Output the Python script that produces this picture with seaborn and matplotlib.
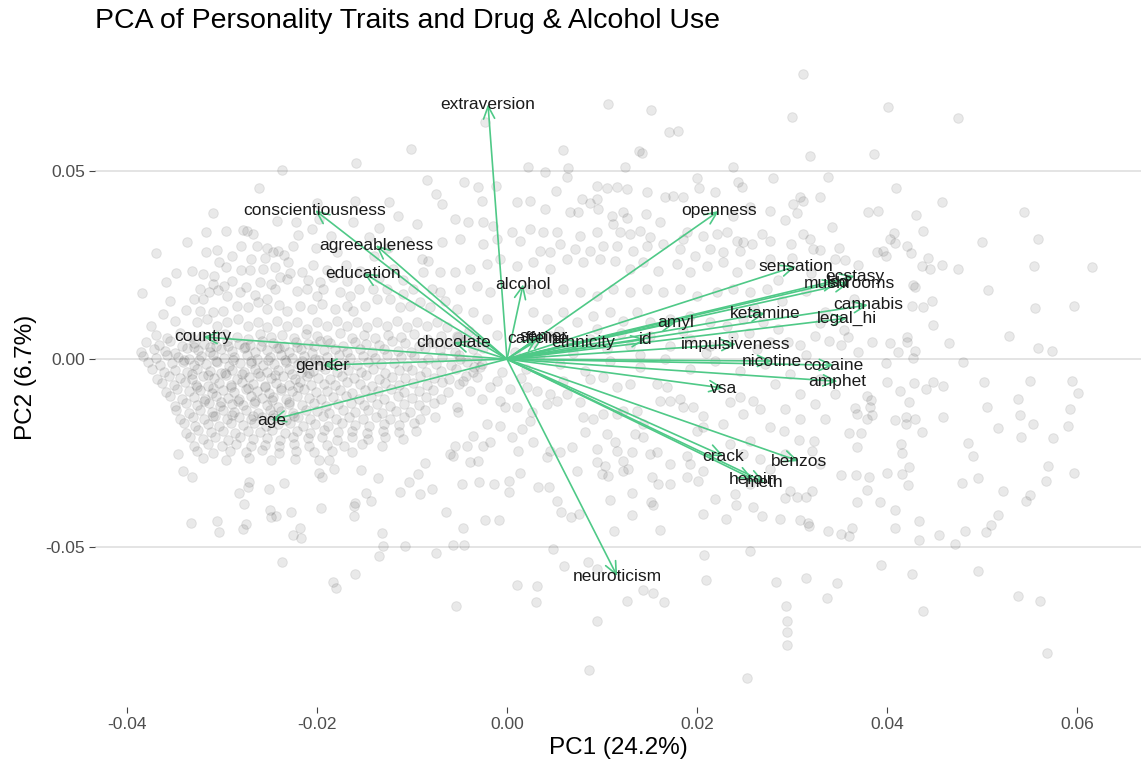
import numpy as np
import pandas as pd
import matplotlib
matplotlib.use("Agg")
import matplotlib.pyplot as plt
import seaborn as sns

# ---------------------------------------------------------------------------
# Variable loadings (PC1, PC2), in units of 1e-3
# ---------------------------------------------------------------------------
var_names = ["extraversion", "conscientiousness", "agreeableness", "education",
             "alcohol", "openness", "sensation", "ecstasy", "lsd", "mushrooms",
             "cannabis", "legal_hi", "ketamine", "amyl", "id", "ethnicity",
             "caffeine", "semer", "chocolate", "impulsiveness", "nicotine",
             "cocaine", "amphet", "vsa", "crack", "benzos", "heroin", "meth",
             "neuroticism", "country", "gender", "age"]
load_pc1 = [-2.0, -20.2, -13.8, -15.1, 1.7, 22.3, 30.4, 36.6, 34.8, 36.0,
            38.0, 35.8, 27.2, 17.8, 14.6, 8.0, 3.2, 3.9, -5.6, 24.1, 27.9,
            34.4, 34.8, 22.8, 22.8, 30.7, 25.9, 27.1, 11.6, -32.0, -19.4, -24.8]
load_pc2 = [67.8, 39.6, 30.3, 22.9, 19.9, 39.4, 24.7, 22.1, 20.5, 20.2,
            14.4, 10.9, 12.2, 9.8, 5.3, 4.5, 5.6, 6.1, 4.5, 4.0, -0.5,
            -1.6, -5.9, -7.7, -25.8, -27.1, -31.9, -32.7, -57.7, 5.9, -1.6, -16.2]

# ---------------------------------------------------------------------------
# Respondent scores (PC1, PC2), in units of 1e-3, grouped by area of the plane
# ---------------------------------------------------------------------------
pts_upper_left = [
    (-10.1, 55.9), (-15.9, 52.1), (-23.7, 50.3), (-26.1, 45.5), (-8.4, 47.6), (-6.8, 41.2),
    (-12.4, 41.8), (-16.0, 42.0), (-30.9, 38.8), (-24.2, 36.7), (-22.2, 36.4), (-19.8, 37.2),
    (-16.2, 36.4), (-31.7, 33.8), (-29.6, 34.0), (-27.8, 34.3), (-27.4, 34.0), (-26.7, 33.2),
    (-22.0, 33.0), (-33.7, 31.1), (-31.7, 28.5), (-30.5, 29.0), (-28.0, 30.1), (-26.3, 30.1),
    (-25.3, 29.5), (-24.6, 28.5), (-24.1, 28.7), (-22.5, 30.1), (-20.1, 29.5), (-36.9, 28.2),
    (-17.9, 28.5), (-6.8, 31.1), (-8.9, 26.6), (-8.3, 26.1), (-30.3, 25.8), (-29.6, 24.5),
    (-28.0, 23.7), (-27.1, 23.7), (-25.7, 23.9), (-24.4, 24.5), (-23.1, 25.8), (-21.6, 23.1),
    (-20.4, 25.0), (-18.9, 23.7), (-34.8, 22.9), (-35.9, 20.5), (-33.2, 23.4), (-32.0, 22.6),
    (-38.4, 17.6), (-30.8, 22.1), (-28.9, 20.7), (-23.9, 21.8), (-23.2, 21.3), (-19.7, 20.5),
    (-18.3, 21.8), (-16.8, 20.7), (-14.1, 18.6), (-15.6, 18.6), (-32.3, 18.6), (-31.4, 17.8),
    (-30.4, 18.4), (-32.9, 16.0), (-32.0, 16.0), (-29.5, 16.8), (-28.1, 17.8), (-26.5, 17.0),
    (-25.3, 16.0), (-24.4, 18.6), (-22.1, 18.1), (-21.1, 18.6), (-20.0, 16.8), (-19.4, 18.6),
    (-17.6, 17.8), (-16.5, 16.8), (-12.6, 18.6), (-10.9, 17.3), (-9.9, 18.6), (-7.9, 18.6),
    (-7.1, 17.8), (-8.8, 23.1), (-7.1, 23.1),
    (-33.8, 13.0), (-32.3, 12.8), (-30.9, 12.5), (-29.9, 12.8), (-28.4, 14.1), (-27.3, 13.8),
    (-26.2, 15.2), (-25.3, 13.3), (-24.0, 14.4), (-23.2, 12.8), (-21.8, 14.1), (-20.5, 13.3),
    (-19.5, 14.6), (-18.1, 13.3), (-16.8, 14.1), (-16.2, 12.8), (-14.9, 14.1), (-13.7, 16.0),
    (-12.3, 16.0), (-11.3, 13.8), (-10.2, 14.1), (-9.2, 15.2), (-8.1, 13.8), (-6.5, 15.4),
    (-32.6, 9.8), (-31.6, 10.6), (-30.5, 8.8), (-29.5, 9.8), (-28.3, 10.6), (-27.3, 8.8),
    (-26.2, 9.8), (-25.3, 8.5), (-24.2, 10.1), (-23.2, 8.8), (-22.1, 9.8), (-21.1, 8.0),
    (-20.0, 9.8), (-18.9, 8.8), (-17.9, 10.1), (-16.8, 8.8), (-15.8, 9.8), (-14.7, 8.5),
    (-13.7, 9.8), (-12.6, 8.8), (-11.6, 10.1), (-10.5, 8.5), (-9.5, 9.8), (-8.4, 8.8),
    (-7.4, 9.8), (-6.3, 8.5),
    (-36.2, 12.0), (-35.0, 10.2), (-37.5, 8.9), (-35.5, 15.5),
    (-31.0, 20.0), (-29.8, 19.5), (-27.5, 19.2), (-26.0, 20.5), (-24.8, 19.9), (-22.8, 23.0),
    (-21.0, 21.0), (-27.0, 26.5), (-25.5, 27.0), (-23.5, 27.8), (-29.0, 27.5), (-17.0, 25.0),
    (-15.5, 23.5), (-13.5, 21.5), (-12.0, 24.0), (-11.0, 21.0), (-14.0, 27.5), (-12.5, 29.5),
    (-10.5, 31.5), (-14.5, 32.5), (-18.5, 32.8), (-20.5, 34.5), (-9.5, 36.0), (-11.5, 38.0),
    (-13.5, 35.0), (-7.5, 44.0), (-20.0, 41.5), (-4.5, 47.0),
]

pts_upper_mid = [
    (10.6, 67.8), (15.2, 66.2), (17.1, 60.4), (18.0, 60.6), (5.9, 55.6), (13.9, 55.3),
    (14.2, 54.8), (-2.3, 63.0), (2.2, 51.1), (4.0, 49.7), (6.4, 50.8), (6.3, 48.4),
    (12.4, 51.1), (23.8, 51.1), (20.0, 48.1), (24.3, 47.1), (24.7, 45.7), (28.0, 48.1),
    (-3.1, 45.7), (-2.6, 42.0), (-1.2, 46.0), (9.5, 46.0), (10.5, 45.5), (11.6, 45.7),
    (12.6, 45.2), (14.7, 44.4), (16.6, 43.1), (17.5, 43.4), (18.5, 43.1), (20.2, 45.5),
    (21.9, 44.4), (1.1, 41.8), (2.4, 42.0), (4.0, 39.9), (5.2, 44.7), (7.9, 42.6),
    (8.7, 41.5), (9.5, 42.6), (9.6, 39.9), (6.6, 39.1), (7.5, 39.1), (11.1, 38.0),
    (12.2, 39.1), (12.6, 37.5), (14.6, 38.6), (16.1, 36.4), (23.8, 38.0), (25.6, 40.4),
    (27.7, 39.4), (-5.5, 37.2), (-4.1, 36.4), (-2.5, 36.4), (-1.5, 35.4), (0.5, 33.8),
    (2.4, 34.6), (3.8, 33.8), (5.3, 33.8), (7.7, 32.7), (9.5, 33.8), (11.2, 35.9),
    (11.9, 33.8), (12.9, 33.2), (14.0, 34.0), (15.1, 32.4), (18.5, 31.9), (18.9, 33.8),
    (20.6, 32.7), (22.1, 33.2), (23.2, 33.8), (24.2, 31.4), (24.8, 31.1), (26.8, 33.2),
    (27.7, 31.4), (-4.9, 31.9), (-2.5, 30.6), (-1.1, 31.9), (1.4, 31.4), (3.5, 28.7),
    (4.5, 28.5), (5.6, 30.6), (7.2, 29.3), (8.7, 28.7), (10.1, 30.1), (11.6, 30.1),
    (13.3, 28.7), (14.7, 30.1), (16.4, 30.6), (18.2, 29.3), (19.8, 27.4), (21.4, 29.3),
    (22.7, 28.5), (24.5, 28.7), (25.8, 30.6),
    (-5.5, 23.1), (-3.9, 23.9), (-2.1, 25.3), (-0.7, 26.6), (1.1, 24.7), (2.7, 25.8),
    (4.5, 23.9), (6.3, 26.6), (8.0, 25.8), (9.8, 26.6), (11.4, 26.1), (12.9, 23.9),
    (14.3, 25.8), (15.9, 23.4), (17.9, 25.3), (19.3, 23.1), (21.1, 24.7), (22.7, 25.8),
    (24.2, 23.1), (25.6, 25.3), (27.7, 26.6),
    (-4.9, 18.6), (-3.2, 19.4), (-1.8, 17.8), (2.4, 18.6), (4.2, 17.8), (5.9, 18.6),
    (7.7, 17.8), (9.5, 16.8), (11.2, 18.6), (12.9, 17.8), (14.7, 18.6), (16.4, 17.8),
    (18.2, 18.6), (20.0, 16.8), (22.1, 17.8), (23.8, 18.6), (25.6, 17.8), (27.4, 18.6),
    (-5.3, 13.3), (-3.6, 12.5), (-2.1, 10.6), (2.7, 12.5), (4.2, 10.6), (5.9, 12.5),
    (7.4, 9.8), (9.1, 11.4), (10.8, 12.5), (12.2, 10.1), (13.7, 12.5), (15.1, 9.8),
    (17.2, 10.6), (19.3, 11.4), (21.4, 9.8), (23.2, 8.8), (24.8, 10.6), (26.9, 9.8),
    (-5.3, 6.1), (-3.2, 5.3), (2.7, 4.5), (4.5, 6.1), (6.6, 3.5), (8.7, 5.3),
    (10.5, 2.7), (12.9, 3.5), (15.1, 6.1), (17.2, 3.5), (19.3, 5.3), (21.4, 3.5),
    (23.8, 6.1), (26.3, 2.7), (27.7, 4.5),
    (-4.0, 7.5), (-2.5, 3.0), (-1.0, 6.5), (0.8, 2.0), (3.5, 1.0), (5.5, 7.5),
    (7.0, 1.5), (9.5, 8.0), (12.0, 7.0), (14.0, 1.0), (18.5, 7.5), (21.0, 1.5),
    (25.5, 7.0), (28.5, 8.0), (26.0, 13.5), (28.5, 21.0),
]

pts_upper_right = [
    (31.2, 75.8), (30.0, 64.4), (40.1, 67.0), (47.5, 64.1), (31.9, 54.0), (38.6, 54.5),
    (33.8, 48.4), (40.9, 45.5), (45.8, 41.8), (54.4, 39.1), (30.8, 43.1), (30.1, 41.2),
    (31.2, 42.0), (32.9, 43.1), (30.5, 38.8), (29.3, 37.0), (38.0, 39.1), (39.1, 39.4),
    (43.1, 38.3), (34.2, 35.1), (43.8, 34.0), (31.2, 33.2), (31.9, 31.9), (40.7, 33.5),
    (40.3, 31.9), (40.8, 30.9), (50.0, 31.1), (55.9, 31.9), (29.9, 30.6), (32.2, 29.3),
    (32.9, 29.0), (34.9, 29.5), (42.1, 30.1), (42.5, 28.2), (38.9, 28.5), (39.6, 28.7),
    (39.9, 27.4), (35.6, 26.3), (44.3, 26.9), (43.7, 24.7), (44.5, 23.9), (45.8, 25.0),
    (47.5, 23.9), (55.5, 24.7), (61.6, 24.5), (50.6, 18.4), (42.7, 19.7), (42.9, 19.1),
    (44.7, 15.4), (43.8, 13.8), (42.6, 14.1), (55.6, 13.6), (59.7, 14.1), (44.8, 9.0),
    (52.8, 6.1), (42.1, 5.9), (42.1, 4.5), (46.5, 4.3), (38.4, 4.5), (40.3, 4.3),
    (35.2, 3.7), (35.9, 5.9), (33.9, 4.8), (32.4, 6.1), (41.2, 1.9), (42.9, 2.1),
    (42.7, 0.3), (55.9, 2.9), (57.4, 2.1), (30.8, 3.7), (29.6, 4.5), (39.9, -1.1),
    (48.0, -0.8),
    (31.5, 1.0), (33.0, 9.5), (35.5, 7.8), (37.0, 2.0), (29.0, 15.5), (31.5, 18.0),
    (33.5, 12.5), (36.5, 16.0), (32.0, 23.0), (34.5, 26.5), (37.0, 25.0), (30.0, 27.0),
]

# Rows across the dense cluster on the left
pts_core = [
    (-37.0, 6.4), (-35.8, 5.5), (-34.4, 6.9), (-33.3, 5.8), (-32.1, 6.2), (-30.8, 5.3),
    (-29.7, 6.7), (-28.4, 6.0), (-27.3, 5.4), (-26.0, 6.8), (-24.8, 5.9), (-23.7, 6.3),
    (-22.4, 5.5), (-21.2, 6.6), (-20.0, 6.1), (-18.9, 5.2), (-17.6, 6.9), (-16.3, 5.7),
    (-15.1, 6.3), (-13.9, 5.6), (-12.5, 6.5), (-11.2, 5.9), (-9.8, 6.8), (-8.4, 5.4),
    (-6.9, 6.2), (-5.2, 5.8),
    (-38.0, 4.6), (-36.6, 3.8), (-35.5, 4.9), (-34.2, 3.6), (-33.0, 4.4), (-31.9, 4.0),
    (-30.6, 3.5), (-29.5, 4.7), (-28.2, 4.1), (-27.1, 3.7), (-25.8, 4.8), (-24.6, 4.3),
    (-23.5, 3.6), (-22.2, 4.5), (-21.0, 3.9), (-19.7, 4.9), (-18.6, 4.2), (-17.3, 3.6),
    (-16.0, 4.6), (-14.8, 4.0), (-13.5, 3.7), (-12.1, 4.8), (-10.7, 4.2), (-9.3, 3.5),
    (-7.8, 4.4), (-6.2, 3.9), (-4.4, 4.7),
    (-38.5, 2.0), (-37.2, 2.8), (-36.0, 2.2), (-34.9, 1.7), (-33.7, 2.9), (-32.5, 2.4),
    (-31.3, 1.9), (-30.1, 2.7), (-29.0, 2.1), (-27.7, 2.9), (-26.5, 1.8), (-25.3, 2.5),
    (-24.2, 2.9), (-22.9, 2.0), (-21.7, 2.6), (-20.5, 1.7), (-19.3, 2.3), (-18.1, 2.8),
    (-16.8, 2.0), (-15.5, 2.6), (-14.2, 1.9), (-12.9, 2.7), (-11.5, 2.2), (-10.1, 1.8),
    (-8.6, 2.9), (-7.1, 2.3), (-5.5, 2.0), (-3.6, 2.6),
    (-38.3, 0.9), (-37.0, 0.2), (-35.8, 1.1), (-34.6, 0.5), (-33.5, 0.0), (-32.2, 0.8),
    (-31.0, 1.2), (-29.8, 0.3), (-28.7, 0.7), (-27.4, 1.0), (-26.3, 0.1), (-25.0, 0.6),
    (-23.8, 1.2), (-22.6, 0.4), (-21.4, 0.9), (-20.2, 0.0), (-19.0, 0.7), (-17.7, 1.1),
    (-16.5, 0.3), (-15.2, 0.8), (-13.9, 0.2), (-12.6, 1.0), (-11.2, 0.5), (-9.8, 0.9),
    (-8.3, 0.1), (-6.8, 0.6), (-5.1, 1.1), (-3.2, 0.4),
    (-37.8, -0.8), (-36.5, -1.6), (-35.3, -1.0), (-34.1, -0.7), (-32.9, -1.5), (-31.7, -1.2),
    (-30.5, -0.8), (-29.3, -1.7), (-28.1, -1.1), (-26.9, -0.9), (-25.7, -1.6), (-24.5, -1.3),
    (-23.3, -0.7), (-22.0, -1.4), (-20.8, -1.0), (-19.6, -1.7), (-18.3, -0.9), (-17.1, -1.2),
    (-15.8, -1.6), (-14.6, -0.8), (-13.3, -1.4), (-11.9, -1.0), (-10.5, -1.7), (-9.0, -0.9),
    (-7.5, -1.3), (-5.9, -1.6), (-4.2, -0.8), (-2.6, -1.2),
    (-37.4, -2.6), (-36.1, -3.4), (-34.9, -2.9), (-33.7, -3.5), (-32.6, -2.7), (-31.3, -3.1),
    (-30.1, -3.6), (-28.9, -2.8), (-27.7, -3.3), (-26.5, -2.6), (-25.3, -3.5), (-24.1, -3.0),
    (-22.9, -2.7), (-21.6, -3.4), (-20.4, -3.1), (-19.2, -2.6), (-17.9, -3.5), (-16.7, -2.9),
    (-15.4, -3.3), (-14.1, -2.7), (-12.8, -3.6), (-11.4, -3.0), (-10.0, -2.8), (-8.5, -3.4),
    (-7.0, -3.1), (-5.4, -2.6), (-3.6, -3.3),
    (-36.8, -5.2), (-35.6, -4.4), (-34.4, -4.9), (-33.2, -5.3), (-32.0, -4.5), (-30.8, -5.0),
    (-29.6, -4.3), (-28.4, -5.4), (-27.2, -4.8), (-26.0, -4.4), (-24.8, -5.1), (-23.6, -4.6),
    (-22.3, -5.3), (-21.1, -4.4), (-19.9, -4.9), (-18.6, -5.2), (-17.4, -4.5), (-16.1, -5.0),
    (-14.8, -4.3), (-13.5, -5.4), (-12.1, -4.7), (-10.7, -5.1), (-9.2, -4.4), (-7.7, -4.9),
    (-6.1, -5.3), (-4.3, -4.6),
    (-36.3, -6.3), (-35.1, -7.0), (-33.9, -6.2), (-32.7, -6.8), (-31.5, -7.1), (-30.3, -6.4),
    (-29.1, -6.9), (-27.9, -6.2), (-26.7, -6.7), (-25.5, -7.1), (-24.3, -6.3), (-23.0, -6.8),
    (-21.8, -6.1), (-20.6, -7.0), (-19.3, -6.5), (-18.1, -6.9), (-16.8, -6.2), (-15.5, -6.7),
    (-14.2, -7.1), (-12.8, -6.3), (-11.4, -6.8), (-9.9, -6.4), (-8.4, -7.0), (-6.8, -6.2),
    (-5.0, -6.7),
    (-35.9, -8.8), (-34.7, -8.0), (-33.5, -8.6), (-32.3, -8.1), (-31.1, -8.9), (-29.9, -8.3),
    (-28.7, -8.7), (-27.5, -8.0), (-26.3, -8.5), (-25.1, -8.9), (-23.8, -8.2), (-22.6, -8.6),
    (-21.4, -8.0), (-20.1, -8.8), (-18.9, -8.4), (-17.6, -8.1), (-16.3, -8.9), (-15.0, -8.3),
    (-13.6, -8.6), (-12.2, -8.0), (-10.8, -8.8), (-9.3, -8.4), (-7.8, -8.2), (-6.2, -8.7),
    (-35.5, -9.9), (-34.2, -10.6), (-33.0, -10.0), (-31.8, -10.5), (-30.6, -9.8), (-29.4, -10.3),
    (-28.2, -10.7), (-27.0, -9.9), (-25.8, -10.4), (-24.6, -10.0), (-23.3, -10.6), (-22.1, -9.8),
    (-20.8, -10.3), (-19.6, -10.7), (-18.3, -10.1), (-17.0, -9.9), (-15.6, -10.5), (-14.3, -10.0),
    (-12.9, -10.6), (-11.5, -9.8), (-10.0, -10.4), (-8.5, -10.1), (-6.9, -10.6),
    (-35.0, -12.4), (-33.8, -11.7), (-32.6, -12.2), (-31.4, -11.6), (-30.2, -12.5), (-29.0, -11.9),
    (-27.8, -12.3), (-26.6, -11.6), (-25.3, -12.1), (-24.1, -12.6), (-22.9, -11.8), (-21.6, -12.2),
    (-20.3, -11.7), (-19.1, -12.4), (-17.8, -12.0), (-16.4, -11.6), (-15.1, -12.3), (-13.7, -11.8),
    (-12.3, -12.5), (-10.8, -11.9), (-9.3, -12.2), (-7.7, -11.7),
    (-34.8, -13.5), (-33.5, -14.2), (-32.3, -13.6), (-31.1, -14.1), (-29.9, -13.4), (-28.7, -14.0),
    (-27.5, -13.6), (-26.2, -14.3), (-25.0, -13.5), (-23.8, -13.9), (-22.5, -14.2), (-21.2, -13.4),
    (-20.0, -13.9), (-18.7, -14.3), (-17.3, -13.6), (-16.0, -14.0), (-14.6, -13.5), (-13.2, -14.2),
    (-11.7, -13.7), (-10.2, -14.0), (-8.6, -13.5),
    (-34.4, -15.9), (-33.1, -15.3), (-31.9, -15.8), (-30.7, -15.2), (-29.5, -16.0), (-28.2, -15.5),
    (-27.0, -15.9), (-25.8, -15.3), (-24.5, -15.7), (-23.3, -16.1), (-22.0, -15.4), (-20.7, -15.8),
    (-19.4, -15.2), (-18.0, -15.9), (-16.6, -15.5), (-15.2, -16.0), (-13.8, -15.3), (-12.3, -15.8),
    (-10.8, -15.4), (-9.2, -15.9), (-7.6, -15.5),
    (-34.0, -17.1), (-32.8, -17.8), (-31.5, -17.2), (-30.3, -17.7), (-29.1, -17.0), (-27.8, -17.6),
    (-26.6, -17.1), (-25.4, -17.8), (-24.1, -17.3), (-22.8, -17.0), (-21.5, -17.7), (-20.2, -17.2),
    (-18.8, -17.8), (-17.4, -17.1), (-16.0, -17.5), (-14.5, -17.8), (-13.0, -17.2), (-11.4, -17.6),
    (-9.8, -17.1),
    (-33.8, -19.6), (-32.5, -18.9), (-31.2, -19.4), (-29.9, -19.0), (-28.6, -19.7), (-27.3, -19.1),
    (-26.0, -19.5), (-24.7, -18.9), (-23.4, -19.6), (-22.1, -19.2), (-20.7, -19.7), (-19.3, -18.9),
    (-17.8, -19.4), (-16.3, -19.0), (-14.7, -19.6), (-13.1, -19.1), (-11.4, -19.5), (-9.6, -19.0),
    (-33.4, -20.7), (-32.0, -21.3), (-30.7, -20.8), (-29.4, -21.4), (-28.1, -20.6), (-26.7, -21.2),
    (-25.3, -20.9), (-23.9, -21.5), (-22.5, -20.7), (-21.0, -21.1), (-19.5, -20.6), (-17.9, -21.4),
    (-16.3, -20.8), (-14.6, -21.2), (-12.8, -20.7), (-10.9, -21.3),
    (-33.0, -23.1), (-31.5, -22.5), (-30.0, -23.0), (-28.5, -22.6), (-27.0, -23.2), (-25.5, -22.7),
    (-24.0, -23.0), (-22.4, -22.5), (-20.8, -23.1), (-19.0, -22.7), (-17.2, -23.2), (-15.3, -22.6),
    (-13.2, -23.0),
    (-32.6, -24.3), (-30.9, -24.9), (-29.2, -24.4), (-27.5, -24.8), (-25.8, -24.2), (-24.0, -24.9),
    (-22.2, -24.5), (-20.3, -24.8), (-18.4, -24.3), (-16.3, -24.7),
    (-32.0, -26.3), (-29.6, -26.9), (-27.2, -26.4), (-24.8, -26.8), (-22.3, -26.5), (-19.8, -26.9),
    (-33.0, 3.3), (-31.3, 3.1), (-29.4, 3.5), (-27.6, 3.2), (-25.9, 3.4), (-24.0, 3.0),
    (-22.1, 3.3), (-20.3, 3.5),
    (-34.0, -0.3), (-32.4, -0.1), (-30.6, -0.4), (-28.8, -0.2), (-27.0, -0.5), (-25.2, -0.1),
    (-23.4, -0.3), (-21.6, -0.4), (-19.8, -0.2),
    (-33.2, -3.9), (-31.5, -4.1), (-29.7, -3.8), (-27.9, -4.0), (-26.2, -3.7), (-24.4, -4.1),
    (-22.6, -3.9), (-20.8, -3.8),
    (-32.6, -7.5), (-30.9, -7.7), (-29.1, -7.4), (-27.3, -7.6), (-25.5, -7.3), (-23.8, -7.7),
    (-22.0, -7.5),
    (-31.9, -11.1), (-30.1, -11.3), (-28.3, -11.0), (-26.5, -11.2), (-24.7, -10.9), (-22.9, -11.3),
    (-31.0, -15.0), (-28.9, -14.8), (-26.7, -15.1), (-24.6, -14.9), (-22.4, -15.2),
]

pts_lower_left = [
    (-23.7, -54.0), (-18.3, -59.3), (-18.0, -60.9), (-16.0, -57.2), (-13.5, -52.4), (-13.1, -49.7),
    (-10.7, -49.7), (-7.5, -51.6), (-13.2, -46.3), (-21.8, -44.9), (-22.5, -46.8), (-21.7, -47.6),
    (-22.7, -40.7), (-19.6, -39.6), (-16.1, -41.8), (-16.1, -39.1), (-16.0, -38.3), (-14.8, -35.6),
    (-14.3, -37.8), (-24.9, -40.2), (-24.3, -41.8), (-24.8, -42.0), (-27.5, -43.9), (-27.8, -45.2),
    (-30.5, -43.1), (-30.3, -46.0), (-33.3, -43.6), (-27.7, -38.6), (-28.2, -35.6), (-27.3, -34.0),
    (-27.2, -32.7), (-25.1, -34.6), (-23.5, -33.0), (-19.8, -30.3), (-19.5, -31.4), (-18.2, -29.3),
    (-18.7, -26.9), (-15.4, -29.5), (-13.6, -31.6), (-11.3, -35.4), (-10.3, -32.7), (-9.2, -35.9),
    (-7.9, -34.6), (-6.4, -40.7), (-9.4, -30.6), (-8.6, -27.7), (-34.1, -29.8), (-33.2, -31.4),
    (-34.6, -25.3),
]

pts_lower_mid = [
    (4.8, -50.5), (6.0, -55.1), (8.5, -54.0), (9.5, -55.9), (1.1, -60.1), (3.2, -60.4),
    (-5.4, -65.7), (3.1, -64.6), (12.6, -64.4), (14.3, -61.4), (15.4, -62.2), (16.5, -64.6),
    (9.5, -69.7), (8.6, -82.7), (25.3, -84.8), (20.7, -52.1), (20.9, -58.8), (25.6, -51.1),
    (28.3, -59.3), (-5.7, -49.5), (-4.5, -49.5), (-4.6, -44.9), (-2.3, -42.8), (-0.8, -42.8),
    (11.3, -45.7), (16.1, -45.5), (13.2, -41.5), (10.8, -37.5), (6.7, -42.0), (7.6, -41.2),
    (5.7, -40.7), (5.3, -37.8), (15.2, -38.0), (15.4, -38.8), (20.6, -41.2), (23.1, -42.6),
    (26.8, -41.8), (25.9, -39.4), (24.1, -38.8), (13.2, -35.6), (-4.7, -33.2), (-2.9, -32.7),
    (-1.4, -33.2), (0.2, -32.4), (0.2, -35.4), (3.3, -34.0), (4.4, -34.0), (1.4, -30.3),
    (-5.3, -12.8), (-5.2, -14.1), (-3.9, -8.5), (-2.6, -10.6), (-0.7, -11.2), (-0.2, -12.8),
    (-2.1, -17.3), (-0.7, -17.8), (1.6, -18.6), (-3.6, -20.5), (-2.5, -23.1), (-1.8, -22.1),
    (0.5, -20.7), (-5.5, -23.1), (-4.2, -23.1), (-6.0, -25.3), (-5.7, -25.8), (1.2, -24.5),
    (-3.9, -27.4), (-3.1, -27.1), (2.7, -22.1), (2.4, -16.5), (2.6, -14.1),
    (4.2, -26.1), (4.5, -24.5), (5.6, -24.7), (6.8, -23.4), (8.2, -19.4), (9.5, -23.9),
    (9.5, -27.4), (10.3, -28.5), (10.0, -30.6), (10.6, -31.1), (12.2, -29.8), (12.7, -29.3),
    (13.2, -24.7), (11.6, -24.5), (12.2, -27.1), (13.5, -19.9), (14.3, -20.7), (15.1, -25.3),
    (15.8, -24.7), (15.3, -31.4), (15.9, -33.2), (17.2, -33.2), (17.2, -27.9), (19.3, -27.9),
    (18.9, -31.4), (20.1, -32.4), (10.5, -19.9), (11.4, -22.1), (8.0, -15.4), (9.1, -16.0),
    (10.1, -14.6), (11.6, -14.6), (12.2, -13.8), (13.7, -13.8), (14.3, -17.3), (16.1, -11.2),
    (17.2, -11.2), (18.2, -10.6), (15.8, -6.6), (16.8, -7.4), (18.5, -12.8), (19.6, -12.8),
    (20.6, -15.2), (20.0, -19.1), (20.6, -18.1), (23.5, -11.4), (24.5, -10.1), (25.9, -11.2),
    (24.8, -14.6), (26.6, -13.3), (27.7, -18.1), (22.7, -17.3), (25.6, -21.8), (24.8, -25.3),
    (26.6, -26.6), (18.9, -25.8), (20.6, -29.8), (23.5, -22.6), (7.4, -29.8),
    (5.3, -11.2), (6.3, -9.3), (7.7, -11.4), (8.7, -5.3), (10.1, -4.8), (11.6, -7.4),
    (12.9, -6.6), (5.9, -5.9), (2.1, -7.4), (3.2, -8.5), (4.2, -12.0), (4.5, -9.3),
    (1.1, -12.8), (0.3, -8.0), (-1.8, -7.4), (-1.1, -5.9), (-4.6, -5.9), (-3.2, -4.8),
    (2.0, -2.5), (-3.5, -2.0), (1.5, -5.0), (-0.5, -3.5),
    (-4.9, 0.0), (-2.8, -2.1), (5.6, -1.3), (8.2, -3.2), (10.8, -0.5), (14.0, -2.1),
    (16.6, 0.0), (19.3, -2.7), (21.9, -0.5), (24.5, -3.2), (27.2, -1.3),
]

pts_lower_right = [
    (40.0, -6.1), (41.4, -8.5), (42.8, -6.4), (44.1, -8.0), (44.8, -6.1), (45.9, -7.2),
    (50.2, -6.1), (55.1, -5.9), (59.5, -5.9), (60.1, -9.0), (53.8, -10.6), (59.3, -13.3),
    (50.5, -12.8), (54.0, -14.9), (55.4, -17.3), (59.1, -17.8), (51.7, -18.4), (57.5, -21.0),
    (54.1, -20.7), (45.9, -15.4), (42.3, -11.4), (42.0, -15.4), (42.9, -16.0), (42.0, -17.3),
    (40.8, -16.2), (37.9, -9.8), (38.3, -10.9), (38.2, -12.8), (38.4, -14.9), (37.9, -16.0),
    (36.6, -13.0), (36.8, -14.6), (43.7, -19.4), (36.0, -19.7), (37.3, -19.7), (41.5, -22.6),
    (41.6, -25.0), (48.5, -22.3), (49.1, -25.8), (36.8, -23.4), (32.3, -21.8), (32.1, -24.5),
    (30.7, -21.5), (29.2, -19.1), (42.3, -28.7), (41.6, -30.6), (40.0, -30.3), (38.1, -31.4),
    (36.7, -30.9), (35.2, -30.9), (42.2, -33.5), (47.9, -33.0), (49.6, -31.6), (56.9, -28.5),
    (59.7, -30.3), (56.7, -32.4), (52.2, -35.1), (55.1, -36.2), (54.6, -37.8), (37.9, -34.8),
    (32.1, -35.1), (30.5, -36.7), (31.5, -36.7), (29.3, -37.0), (29.8, -35.1), (36.8, -38.0),
    (39.3, -38.0), (40.8, -40.2), (51.7, -41.5), (50.9, -44.1), (50.4, -46.0), (48.2, -45.7),
    (45.5, -46.8), (43.4, -43.1), (43.4, -48.1), (40.8, -44.9), (47.2, -49.2), (30.8, -42.8),
    (31.8, -44.4), (31.7, -43.6), (33.8, -45.7), (35.2, -46.5), (36.0, -47.1), (36.3, -44.9),
    (39.4, -54.8), (42.6, -57.2), (49.6, -56.4), (31.5, -58.2), (34.7, -59.6), (33.7, -63.6),
    (29.4, -65.7), (29.5, -69.7), (29.5, -72.6), (29.5, -76.1), (43.8, -67.0), (53.8, -63.0),
    (56.1, -64.4), (56.8, -78.2),
    (29.8, -4.0), (28.2, -6.6), (30.8, -9.3), (32.9, -5.3), (32.4, -12.0), (34.5, -9.3),
    (29.3, -13.3), (30.8, -16.0), (33.5, -16.0), (29.3, -25.3), (27.7, -29.3), (32.9, -27.9),
    (25.6, -33.2), (24.0, -35.9), (28.7, -42.6), (21.9, -37.2),
]

# ---------------------------------------------------------------------------
scores = np.array(pts_upper_left + pts_upper_mid + pts_upper_right + pts_core
                  + pts_lower_left + pts_lower_mid + pts_lower_right) * 1e-3
df_scores = pd.DataFrame({"PC1": scores[:, 0], "PC2": scores[:, 1]})
df_load = pd.DataFrame({"var": var_names,
                        "PC1": np.array(load_pc1) * 1e-3,
                        "PC2": np.array(load_pc2) * 1e-3})

sns.set_theme(style="white")
plt.rcParams["font.family"] = ["Liberation Sans", "DejaVu Sans"]
plt.rcParams["axes.unicode_minus"] = False

W, H = 1141, 768
fig = plt.figure(figsize=(W / 100, H / 100), dpi=100)
ax = fig.add_axes([95 / W, 61 / H, 1046 / W, 660 / H])

sns.scatterplot(data=df_scores, x="PC1", y="PC2", ax=ax, color="black",
                alpha=0.085, s=48, edgecolor="black", linewidth=0.7, zorder=2)

arrow_color = "#4fc987"
for _, row in df_load.iterrows():
    ax.annotate("", xy=(row.PC1, row.PC2), xytext=(0, 0),
                arrowprops=dict(arrowstyle="->,head_length=0.45,head_width=0.2",
                                color=arrow_color, lw=1.2, shrinkA=0, shrinkB=0,
                                mutation_scale=20),
                zorder=3)
for _, row in df_load.iterrows():
    ax.text(row.PC1, row.PC2, row["var"], ha="center", va="center",
            fontsize=12.5, color="#1a1a1a", zorder=4)

ax.set_xlim(-0.04337, 0.06674)
ax.set_ylim(-0.0925, 0.0830)
ax.set_xticks([-0.04, -0.02, 0.00, 0.02, 0.04, 0.06])
ax.set_xticklabels(["-0.04", "-0.02", "0.00", "0.02", "0.04", "0.06"])
ax.set_yticks([-0.05, 0.00, 0.05])
ax.set_yticklabels(["-0.05", "0.00", "0.05"])

ax.grid(axis="y", color="#dcdcdc", linewidth=1.1, zorder=0)
ax.grid(axis="x", visible=False)
ax.set_axisbelow(True)
for sp in ax.spines.values():
    sp.set_visible(False)
ax.tick_params(axis="both", which="major", length=4, width=0.8, color="#444444",
               labelsize=12.5, labelcolor="#4d4d4d", pad=3, bottom=True, left=True)

ax.set_xlabel("PC1 (24.2%)", fontsize=17.5, color="black", labelpad=4)
ax.set_ylabel("PC2 (6.7%)", fontsize=17.5, color="black", labelpad=6)

fig.text(95 / W, 1 - 21 / H, "PCA of Personality Traits and Drug & Alcohol Use",
         fontsize=20.5, color="black", ha="left", va="center")

fig.savefig("out.png", dpi=100)
